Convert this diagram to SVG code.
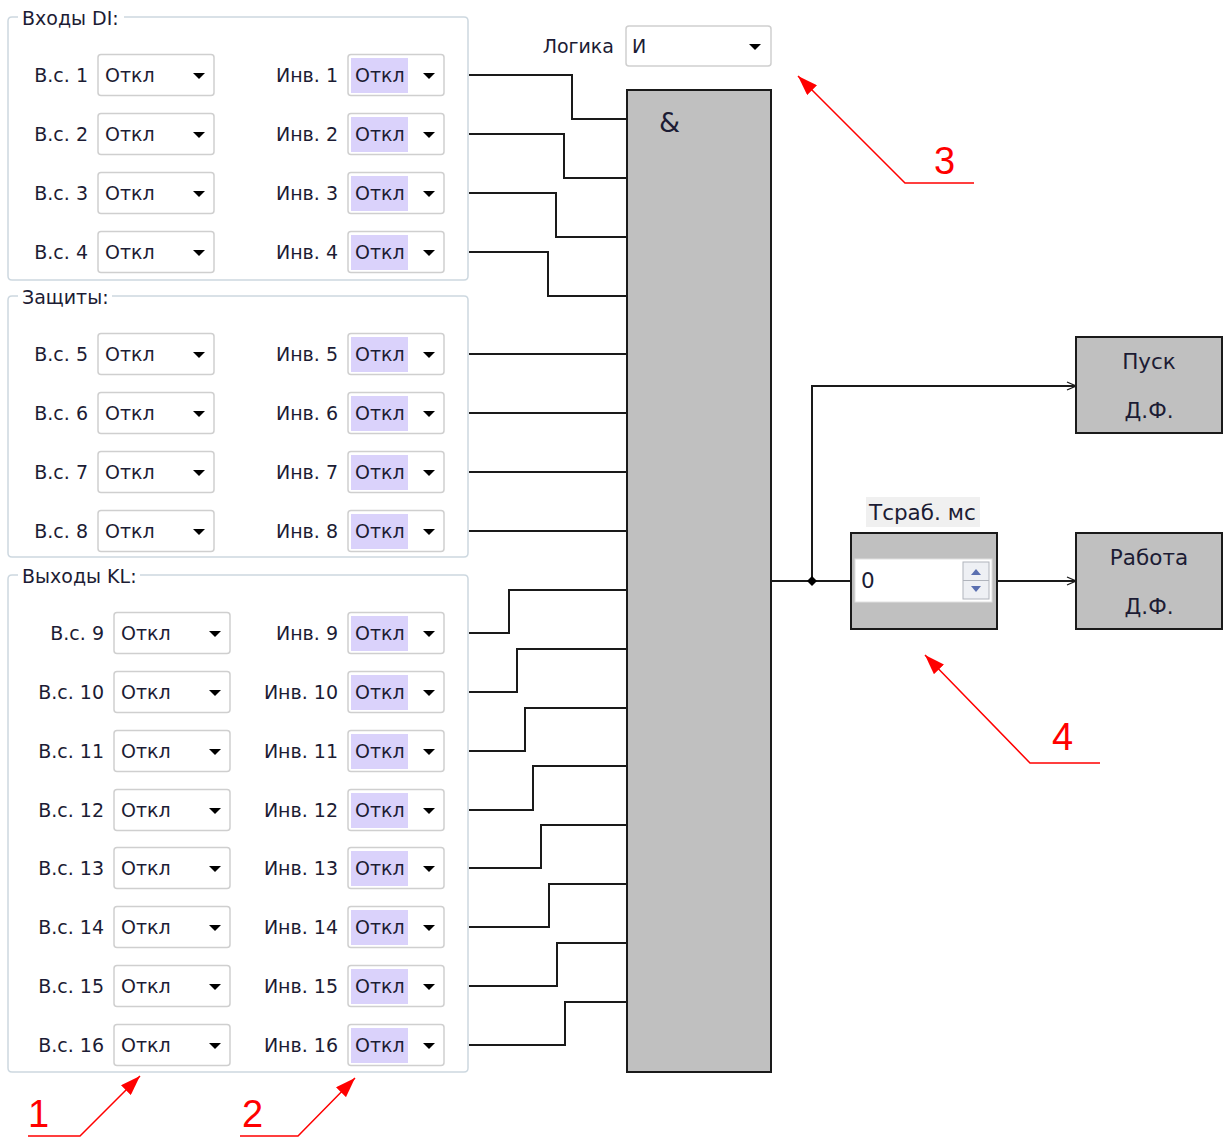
<svg xmlns="http://www.w3.org/2000/svg" width="1224" height="1137" viewBox="0 0 1224 1137">
<style>
.t{font-family:"DejaVu Sans",Verdana,sans-serif;font-size:19px;fill:#1c1c34}
.b{font-size:21.5px}
.r{text-anchor:end}
.c{text-anchor:middle}
.grp{fill:none;stroke:#cdd8e0;stroke-width:1.5}
.cb{fill:#fff;stroke:#cfcfcf;stroke-width:1.5}
.hl{fill:#dad2fb}
.tri{fill:#000}
.w{fill:none;stroke:#1a1a1a;stroke-width:2}
.blk{fill:#c0c0c0;stroke:#1a1a1a;stroke-width:2}
.red{fill:none;stroke:#ff0000;stroke-width:1.5}
.rn{font-family:"Liberation Sans",Arial,sans-serif;font-size:38px;fill:#ff0000}
</style>
<defs>
<marker id="oa" viewBox="0 0 10 10" refX="10" refY="5" markerWidth="10" markerHeight="10" markerUnits="userSpaceOnUse" orient="auto">
<path d="M1,1 L10,5 L1,9" fill="none" stroke="#1a1a1a" stroke-width="1.3"/>
</marker>
<marker id="ra" viewBox="0 0 20 14" refX="20" refY="7" markerWidth="20" markerHeight="14" markerUnits="userSpaceOnUse" orient="auto">
<path d="M0,0 L20,7 L0,14 Z" fill="#ff0000"/>
</marker>
<g id="cbv"><rect class="cb" x="0" y="-20.5" width="116" height="41" rx="3"/><text class="t" x="7" y="7">Откл</text><path class="tri" d="M95,-2 L107,-2 L101,4 Z"/></g>
<g id="cbi"><rect class="cb" x="0" y="-20.5" width="96" height="41" rx="3"/><rect class="hl" x="3" y="-17" width="57" height="35"/><text class="t" x="7" y="7">Откл</text><path class="tri" d="M75,-2 L87,-2 L81,4 Z"/></g>
</defs>
<rect width="1224" height="1137" fill="#fff"/>

<g id="group-di">
<path class="grp" d="M18,17 L12,17 Q8,17 8,21 L8,276 Q8,280 12,280 L464,280 Q468,280 468,276 L468,21 Q468,17 464,17 L124,17"/>
<text class="t" x="22" y="25">Входы DI:</text>
</g>
<g id="group-prot">
<path class="grp" d="M18,296 L12,296 Q8,296 8,300 L8,553 Q8,557 12,557 L464,557 Q468,557 468,553 L468,300 Q468,296 464,296 L112,296"/>
<text class="t" x="22" y="304">Защиты:</text>
</g>
<g id="group-kl">
<path class="grp" d="M18,575 L12,575 Q8,575 8,579 L8,1068 Q8,1072 12,1072 L464,1072 Q468,1072 468,1068 L468,579 Q468,575 464,575 L140,575"/>
<text class="t" x="22" y="583">Выходы KL:</text>
</g>

<g id="rows">
<g id="row1" transform="translate(0,75)"><text class="t r" x="88" y="7">В.с. 1</text><use href="#cbv" x="98"/><text class="t r" x="338" y="7">Инв. 1</text><use href="#cbi" x="348"/></g>
<g id="row2" transform="translate(0,134)"><text class="t r" x="88" y="7">В.с. 2</text><use href="#cbv" x="98"/><text class="t r" x="338" y="7">Инв. 2</text><use href="#cbi" x="348"/></g>
<g id="row3" transform="translate(0,193)"><text class="t r" x="88" y="7">В.с. 3</text><use href="#cbv" x="98"/><text class="t r" x="338" y="7">Инв. 3</text><use href="#cbi" x="348"/></g>
<g id="row4" transform="translate(0,252)"><text class="t r" x="88" y="7">В.с. 4</text><use href="#cbv" x="98"/><text class="t r" x="338" y="7">Инв. 4</text><use href="#cbi" x="348"/></g>
<g id="row5" transform="translate(0,354)"><text class="t r" x="88" y="7">В.с. 5</text><use href="#cbv" x="98"/><text class="t r" x="338" y="7">Инв. 5</text><use href="#cbi" x="348"/></g>
<g id="row6" transform="translate(0,413)"><text class="t r" x="88" y="7">В.с. 6</text><use href="#cbv" x="98"/><text class="t r" x="338" y="7">Инв. 6</text><use href="#cbi" x="348"/></g>
<g id="row7" transform="translate(0,472)"><text class="t r" x="88" y="7">В.с. 7</text><use href="#cbv" x="98"/><text class="t r" x="338" y="7">Инв. 7</text><use href="#cbi" x="348"/></g>
<g id="row8" transform="translate(0,531)"><text class="t r" x="88" y="7">В.с. 8</text><use href="#cbv" x="98"/><text class="t r" x="338" y="7">Инв. 8</text><use href="#cbi" x="348"/></g>
<g id="row9" transform="translate(0,633)"><text class="t r" x="104" y="7">В.с. 9</text><use href="#cbv" x="114"/><text class="t r" x="338" y="7">Инв. 9</text><use href="#cbi" x="348"/></g>
<g id="row10" transform="translate(0,692)"><text class="t r" x="104" y="7">В.с. 10</text><use href="#cbv" x="114"/><text class="t r" x="338" y="7">Инв. 10</text><use href="#cbi" x="348"/></g>
<g id="row11" transform="translate(0,751)"><text class="t r" x="104" y="7">В.с. 11</text><use href="#cbv" x="114"/><text class="t r" x="338" y="7">Инв. 11</text><use href="#cbi" x="348"/></g>
<g id="row12" transform="translate(0,810)"><text class="t r" x="104" y="7">В.с. 12</text><use href="#cbv" x="114"/><text class="t r" x="338" y="7">Инв. 12</text><use href="#cbi" x="348"/></g>
<g id="row13" transform="translate(0,868)"><text class="t r" x="104" y="7">В.с. 13</text><use href="#cbv" x="114"/><text class="t r" x="338" y="7">Инв. 13</text><use href="#cbi" x="348"/></g>
<g id="row14" transform="translate(0,927)"><text class="t r" x="104" y="7">В.с. 14</text><use href="#cbv" x="114"/><text class="t r" x="338" y="7">Инв. 14</text><use href="#cbi" x="348"/></g>
<g id="row15" transform="translate(0,986)"><text class="t r" x="104" y="7">В.с. 15</text><use href="#cbv" x="114"/><text class="t r" x="338" y="7">Инв. 15</text><use href="#cbi" x="348"/></g>
<g id="row16" transform="translate(0,1045)"><text class="t r" x="104" y="7">В.с. 16</text><use href="#cbv" x="114"/><text class="t r" x="338" y="7">Инв. 16</text><use href="#cbi" x="348"/></g>
</g>

<g id="logic-select">
<text class="t r" x="614" y="53">Логика</text>
<rect class="cb" x="626" y="26" width="145" height="40" rx="3"/>
<text class="t" x="632" y="53">И</text>
<path class="tri" d="M749,44 L761,44 L755,50 Z"/>
</g>

<g id="connectors">
<path class="w" d="M469,75 H572 V119 H627"/>
<path class="w" d="M469,134 H564 V178 H627"/>
<path class="w" d="M469,193 H556 V237 H627"/>
<path class="w" d="M469,252 H548 V296 H627"/>
<path class="w" d="M469,354 H627"/>
<path class="w" d="M469,413 H627"/>
<path class="w" d="M469,472 H627"/>
<path class="w" d="M469,531 H627"/>
<path class="w" d="M469,633 H509 V590 H627"/>
<path class="w" d="M469,692 H517 V649 H627"/>
<path class="w" d="M469,751 H525 V708 H627"/>
<path class="w" d="M469,810 H533 V766 H627"/>
<path class="w" d="M469,868 H541 V825 H627"/>
<path class="w" d="M469,927 H549 V884 H627"/>
<path class="w" d="M469,986 H557 V943 H627"/>
<path class="w" d="M469,1045 H565 V1002 H627"/>
<path class="w" d="M771,581 H851"/>
<path class="w" d="M812,581 V386 H1076" marker-end="url(#oa)"/>
<path class="w" d="M997,581 H1076" marker-end="url(#oa)"/>
<path d="M812,576 L817,581 L812,586 L807,581 Z" fill="#000"/>
</g>

<g id="and-block">
<rect class="blk" x="627" y="90" width="144" height="982"/>
<text x="659" y="132" font-family="DejaVu Sans,sans-serif" font-size="27" fill="#1c1c34">&amp;</text>
</g>

<g id="timer">
<rect x="866" y="497" width="114" height="30" fill="#f0f0f0"/>
<text class="t b" x="869" y="520">Тсраб. мс</text>
<rect class="blk" x="851" y="533" width="146" height="96"/>
<rect x="855" y="559" width="137" height="43" fill="#fff" stroke="#e0e0e0"/>
<text class="t b" x="861" y="588">0</text>
<rect x="963" y="562" width="26" height="37" fill="#eef0f4" stroke="#b0b4bc"/>
<line x1="963" y1="580.5" x2="989" y2="580.5" stroke="#b0b4bc"/>
<path d="M971,575 L981,575 L976,569 Z" fill="#5a6fb0"/>
<path d="M971,586 L981,586 L976,592 Z" fill="#5a6fb0"/>
</g>

<g id="pusk">
<rect class="blk" x="1076" y="337" width="146" height="96"/>
<text class="t b c" x="1149" y="369">Пуск</text>
<text class="t b c" x="1149" y="418">Д.Ф.</text>
</g>
<g id="rabota">
<rect class="blk" x="1076" y="533" width="146" height="96"/>
<text class="t b c" x="1149" y="565">Работа</text>
<text class="t b c" x="1149" y="614">Д.Ф.</text>
</g>

<g id="annotations">
<path class="red" d="M28,1136 H80 L140,1076" marker-end="url(#ra)"/>
<text class="rn" x="28" y="1127">1</text>
<path class="red" d="M240,1136 H298 L355,1078" marker-end="url(#ra)"/>
<text class="rn" x="242" y="1127">2</text>
<path class="red" d="M974,183 H905 L798,76" marker-end="url(#ra)"/>
<text class="rn" x="934" y="174">3</text>
<path class="red" d="M1100,763 H1030 L925,655" marker-end="url(#ra)"/>
<text class="rn" x="1052" y="750">4</text>
</g>
</svg>
